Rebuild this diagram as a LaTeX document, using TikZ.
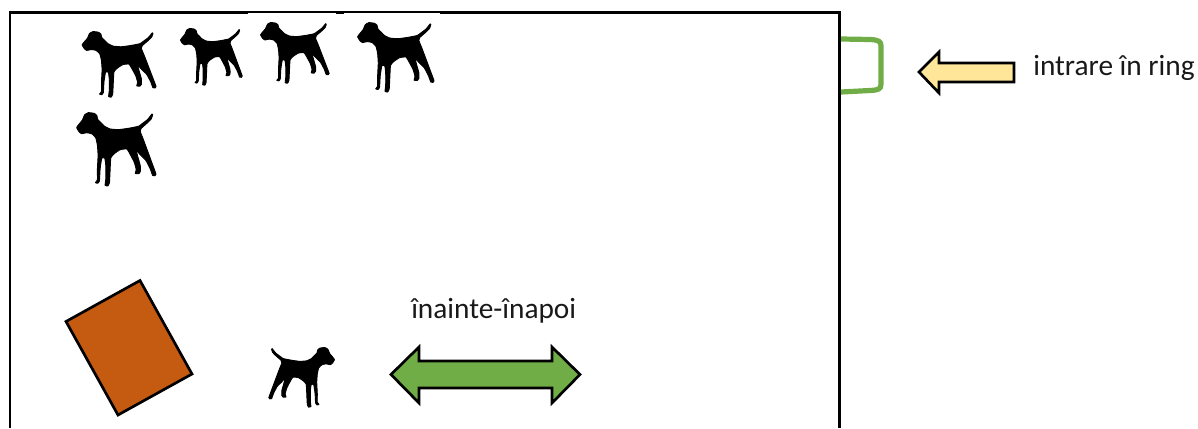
\documentclass[tikz,border=0pt]{standalone}
\usepackage{fontspec}
\setmainfont{Carlito}
\definecolor{ringgreen}{HTML}{70AD47}
\definecolor{ringyellow}{HTML}{FFE699}
\definecolor{ringbrown}{HTML}{C55A11}
\newcommand{\dogshape}[4]{% x0 y0 x1 y1 in px
  \begin{scope}[shift={(#1,#2)},xscale={(#3-(#1))/242},yscale={(#4-(#2))/221},shift={(-18,-22)}]
  \filldraw[black,line width=0.7pt,line join=round] plot[smooth cycle,tension=0.25] coordinates {
  (20,68)(27,58)(37,46)(44,30)(55,24)(72,26)(80,32)(83,44)(93,54)(103,64)(120,72)(145,74)(175,70)(205,64)(215,57)(232,44)(245,28)(247,30)(243,42)(230,55)(213,70)(210,80)(218,100)(233,140)(246,175)(257,205)(254,210)(247,209)(240,190)(227,165)(210,148)(198,134)(203,155)(210,180)(210,198)(205,204)(195,203)(198,192)(192,170)(180,147)(170,131)(150,133)(132,145)(122,157)(120,190)(118,230)(113,240)(105,238)(107,220)(107,180)(104,158)(95,158)(90,190)(88,225)(83,232)(76,230)(82,222)(82,190)(84,150)(82,120)(77,98)(65,86)(50,83)(35,86)(27,80)};
  \end{scope}}
\tikzset{
  frameline/.style={draw=black,line width=2pt},
  blockarrow/.style={draw=black,line width=2pt,miter limit=10},
  labeltext/.style={font=\fontsize{22}{26}\selectfont,text=black!90,inner sep=0pt,anchor=base west}
}
\begin{document}
\begin{tikzpicture}[x=0.75pt,y=-0.75pt]
\useasboundingbox (0,0) rectangle (1198,428);
\fill[white] (0,0) rectangle (1198,428);
% ring
\draw[frameline] (10,428) -- (10,12.5) -- (839.5,12.5) -- (839.5,428);
\fill[white] (248,13.3) rectangle (336,20);
\fill[white] (344,13.3) rectangle (440,20);
% entrance
\draw[ringgreen,line width=3.9pt,line join=round] (841,39) -- (870,39.5) .. controls (879,40) and (881,41.5) .. (881,46) -- (881,84) .. controls (881,89) and (879,90) .. (870,90.5) -- (841,92);
% dogs
\dogshape{81.5}{31}{157}{98}
\dogshape{180}{28}{243}{86}
\dogshape{260}{22}{330}{84}
\dogshape{357}{22}{435}{93}
\dogshape{76}{112}{157}{187}
\dogshape{335}{347}{268}{408}
% table
\draw[blockarrow,fill=ringbrown] (66,321.5) -- (140,280.5) -- (192,374) -- (118,415) -- cycle;
% arrows
\draw[blockarrow,fill=ringyellow] (919,72) -- (939,52) -- (939,63) -- (1014,63) -- (1014,82) -- (939,82) -- (939,93) -- cycle;
\draw[blockarrow,fill=ringgreen] (391,374.5) -- (419,347) -- (419,361) -- (552,361) -- (552,347) -- (580,374.5) -- (552,403) -- (552,388) -- (419,388) -- (419,403) -- cycle;
% labels
\node[labeltext] (entry) at (1033,75) {intrare în ring};
\node[labeltext] (back) at (411,318) {înainte-înapoi};
\end{tikzpicture}
\end{document}
